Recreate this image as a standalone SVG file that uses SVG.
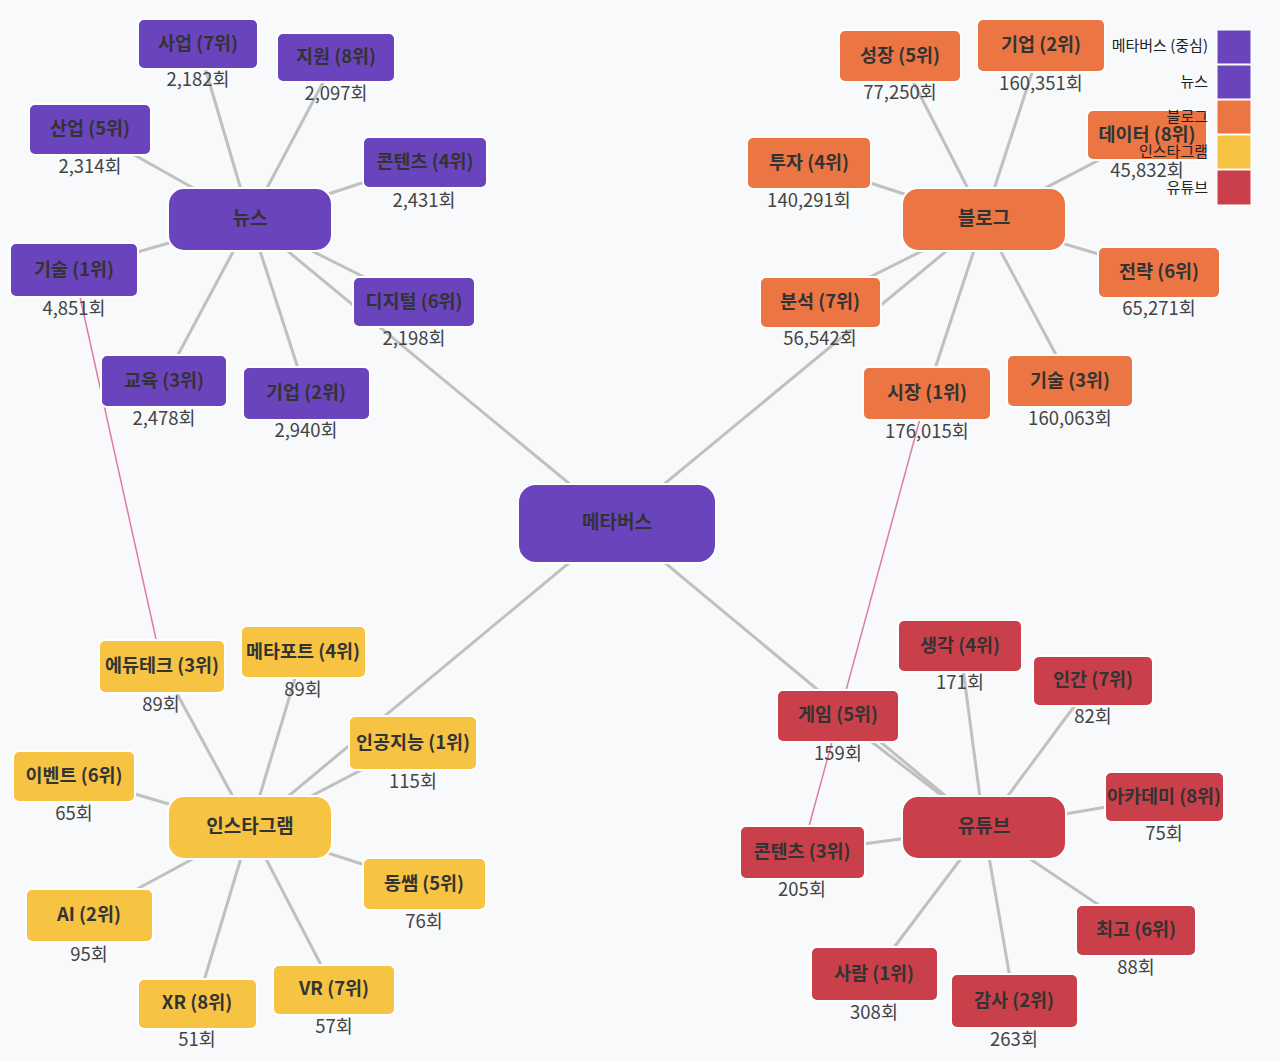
<svg xmlns="http://www.w3.org/2000/svg" width="1280" height="1061" viewBox="0 0 1280 1061">
<style>
text{font-family:"Noto Sans CJK KR","Noto Sans",sans-serif;text-anchor:middle}
.n rect{stroke:#fff;stroke-width:2}
.p rect{fill:#6a44bd}.o rect{fill:#ec7544}.y rect{fill:#f6c343}.r rect{fill:#c9404a}
.l{font-size:18.5px;font-weight:bold;fill:#333}
.h{font-size:19px;font-weight:bold;fill:#333}
.c{font-size:18.5px;fill:#444}
.e line{stroke:#c0c0c0;stroke-width:3}
.k line{stroke:#e07aa8;stroke-width:1.5}
.lg text{font-size:15px;fill:#222;text-anchor:end}
.lg rect{stroke:#fff;stroke-width:1}
</style>
<rect width="1280" height="1061" fill="#f8f9fb"/>
<g id="connectors">
<g class="e">
<line x1="617" y1="523" x2="250" y2="220"/><line x1="617" y1="523" x2="984" y2="220"/>
<line x1="617" y1="523" x2="250" y2="828"/><line x1="617" y1="523" x2="984" y2="828"/>
<line x1="250" y1="220" x2="198" y2="44"/><line x1="250" y1="220" x2="336" y2="58"/>
<line x1="250" y1="220" x2="90" y2="130"/><line x1="250" y1="220" x2="425" y2="162"/>
<line x1="250" y1="220" x2="74" y2="270"/><line x1="250" y1="220" x2="414" y2="302"/>
<line x1="250" y1="220" x2="164" y2="381"/><line x1="250" y1="220" x2="306" y2="393"/>
<line x1="984" y1="220" x2="900" y2="56"/><line x1="984" y1="220" x2="1041" y2="45"/>
<line x1="984" y1="220" x2="1147" y2="135"/><line x1="984" y1="220" x2="809" y2="163"/>
<line x1="984" y1="220" x2="1159" y2="272"/><line x1="984" y1="220" x2="820" y2="302"/>
<line x1="984" y1="220" x2="927" y2="393"/><line x1="984" y1="220" x2="1070" y2="381"/>
<line x1="250" y1="828" x2="162" y2="666"/><line x1="250" y1="828" x2="303" y2="652"/>
<line x1="250" y1="828" x2="413" y2="743"/><line x1="250" y1="828" x2="74" y2="776"/>
<line x1="250" y1="828" x2="424" y2="884"/><line x1="250" y1="828" x2="89" y2="915"/>
<line x1="250" y1="828" x2="197" y2="1004"/><line x1="250" y1="828" x2="334" y2="990"/>
<line x1="984" y1="828" x2="960" y2="646"/><line x1="984" y1="828" x2="1093" y2="681"/>
<line x1="984" y1="828" x2="838" y2="716"/><line x1="984" y1="828" x2="1164" y2="797"/>
<line x1="984" y1="828" x2="802" y2="852"/><line x1="984" y1="828" x2="1136" y2="930"/>
<line x1="984" y1="828" x2="874" y2="974"/><line x1="984" y1="828" x2="1014" y2="1001"/>
</g>
<g class="k">
<line x1="74" y1="270" x2="162" y2="666"/>
<line x1="927" y1="393" x2="802" y2="852"/>
</g>
</g>
<g id="metaverse" class="n p"><rect x="518" y="484" width="198" height="79" rx="18"/><text class="h" x="617" y="529">메타버스</text></g>
<g id="news" class="n p"><rect x="168" y="188" width="164" height="63" rx="16"/><text class="h" x="250" y="225">뉴스</text></g>
<g id="blog" class="n o"><rect x="902" y="188" width="164" height="63" rx="16"/><text class="h" x="984" y="225">블로그</text></g>
<g id="insta" class="n y"><rect x="168" y="796" width="164" height="63" rx="16"/><text class="h" x="250" y="833">인스타그램</text></g>
<g id="youtube" class="n r"><rect x="902" y="796" width="164" height="63" rx="16"/><text class="h" x="984" y="833">유튜브</text></g>

<g id="n1" class="n p"><rect x="138" y="19" width="120" height="50" rx="6"/><text class="l" x="198" y="50">사업 (7위)</text><text class="c" x="198" y="86">2,182회</text></g>
<g id="n2" class="n p"><rect x="277" y="33" width="118" height="49" rx="6"/><text class="l" x="336" y="63">지원 (8위)</text><text class="c" x="336" y="100">2,097회</text></g>
<g id="n3" class="n p"><rect x="29" y="104" width="122" height="51" rx="6"/><text class="l" x="90" y="135">산업 (5위)</text><text class="c" x="90" y="173">2,314회</text></g>
<g id="n4" class="n p"><rect x="363" y="137" width="124" height="51" rx="6"/><text class="l" x="425" y="168">콘텐츠 (4위)</text><text class="c" x="424" y="207">2,431회</text></g>
<g id="n5" class="n p"><rect x="10" y="243" width="128" height="54" rx="6"/><text class="l" x="74" y="276">기술 (1위)</text><text class="c" x="74" y="315">4,851회</text></g>
<g id="n6" class="n p"><rect x="353" y="277" width="122" height="50" rx="6"/><text class="l" x="414" y="308">디지털 (6위)</text><text class="c" x="414" y="345">2,198회</text></g>
<g id="n7" class="n p"><rect x="101" y="355" width="126" height="52" rx="6"/><text class="l" x="164" y="387">교육 (3위)</text><text class="c" x="164" y="425">2,478회</text></g>
<g id="n8" class="n p"><rect x="243" y="367" width="127" height="53" rx="6"/><text class="l" x="306" y="399">기업 (2위)</text><text class="c" x="306" y="437">2,940회</text></g>

<g id="b1" class="n o"><rect x="839" y="30" width="122" height="52" rx="6"/><text class="l" x="900" y="62">성장 (5위)</text><text class="c" x="900" y="99">77,250회</text></g>
<g id="b2" class="n o"><rect x="977" y="19" width="128" height="53" rx="6"/><text class="l" x="1041" y="51">기업 (2위)</text><text class="c" x="1041" y="90">160,351회</text></g>
<g id="b3" class="n o"><rect x="1087" y="110" width="120" height="50" rx="6"/><text class="l" x="1147" y="141">데이터 (8위)</text><text class="c" x="1147" y="177">45,832회</text></g>
<g id="b4" class="n o"><rect x="747" y="137" width="124" height="52" rx="6"/><text class="l" x="809" y="169">투자 (4위)</text><text class="c" x="809" y="207">140,291회</text></g>
<g id="b5" class="n o"><rect x="1098" y="247" width="122" height="51" rx="6"/><text class="l" x="1159" y="278">전략 (6위)</text><text class="c" x="1159" y="315">65,271회</text></g>
<g id="b6" class="n o"><rect x="760" y="277" width="121" height="51" rx="6"/><text class="l" x="820" y="308">분석 (7위)</text><text class="c" x="820" y="345">56,542회</text></g>
<g id="b7" class="n o"><rect x="863" y="367" width="128" height="53" rx="6"/><text class="l" x="927" y="399">시장 (1위)</text><text class="c" x="927" y="438">176,015회</text></g>
<g id="b8" class="n o"><rect x="1007" y="355" width="126" height="52" rx="6"/><text class="l" x="1070" y="387">기술 (3위)</text><text class="c" x="1070" y="425">160,063회</text></g>

<g id="i1" class="n y"><rect x="99" y="640" width="126" height="53" rx="6"/><text class="l" x="162" y="672">에듀테크 (3위)</text><text class="c" x="161" y="711">89회</text></g>
<g id="i2" class="n y"><rect x="241" y="626" width="125" height="52" rx="6"/><text class="l" x="303" y="658">메타포트 (4위)</text><text class="c" x="303" y="696">89회</text></g>
<g id="i3" class="n y"><rect x="349" y="716" width="128" height="54" rx="6"/><text class="l" x="413" y="749">인공지능 (1위)</text><text class="c" x="413" y="788">115회</text></g>
<g id="i4" class="n y"><rect x="13" y="751" width="122" height="51" rx="6"/><text class="l" x="74" y="782">이벤트 (6위)</text><text class="c" x="74" y="820">65회</text></g>
<g id="i5" class="n y"><rect x="363" y="858" width="123" height="52" rx="6"/><text class="l" x="424" y="890">동쌤 (5위)</text><text class="c" x="424" y="928">76회</text></g>
<g id="i6" class="n y"><rect x="26" y="889" width="127" height="53" rx="6"/><text class="l" x="89" y="921">AI (2위)</text><text class="c" x="89" y="961">95회</text></g>
<g id="i7" class="n y"><rect x="138" y="979" width="119" height="50" rx="6"/><text class="l" x="197" y="1009">XR (8위)</text><text class="c" x="197" y="1046">51회</text></g>
<g id="i8" class="n y"><rect x="273" y="965" width="122" height="50" rx="6"/><text class="l" x="334" y="995">VR (7위)</text><text class="c" x="334" y="1033">57회</text></g>

<g id="y1" class="n r"><rect x="898" y="620" width="124" height="52" rx="6"/><text class="l" x="960" y="652">생각 (4위)</text><text class="c" x="960" y="689">171회</text></g>
<g id="y2" class="n r"><rect x="1033" y="656" width="120" height="50" rx="6"/><text class="l" x="1093" y="686">인간 (7위)</text><text class="c" x="1093" y="723">82회</text></g>
<g id="y3" class="n r"><rect x="777" y="690" width="122" height="52" rx="6"/><text class="l" x="838" y="721">게임 (5위)</text><text class="c" x="838" y="760">159회</text></g>
<g id="y4" class="n r"><rect x="1105" y="772" width="119" height="50" rx="6"/><text class="l" x="1164" y="803">아카데미 (8위)</text><text class="c" x="1164" y="840">75회</text></g>
<g id="y5" class="n r"><rect x="740" y="826" width="125" height="53" rx="6"/><text class="l" x="802" y="858">콘텐츠 (3위)</text><text class="c" x="802" y="896">205회</text></g>
<g id="y6" class="n r"><rect x="1076" y="905" width="120" height="51" rx="6"/><text class="l" x="1136" y="936">최고 (6위)</text><text class="c" x="1136" y="974">88회</text></g>
<g id="y7" class="n r"><rect x="811" y="947" width="127" height="54" rx="6"/><text class="l" x="874" y="980">사람 (1위)</text><text class="c" x="874" y="1019">308회</text></g>
<g id="y8" class="n r"><rect x="951" y="974" width="127" height="54" rx="6"/><text class="l" x="1014" y="1007">감사 (2위)</text><text class="c" x="1014" y="1046">263회</text></g>

<g id="legend" class="lg">
<rect x="1217" y="30" width="34" height="34" fill="#6a44bd"/><text x="1208" y="51">메타버스 (중심)</text>
<rect x="1217" y="65" width="34" height="34" fill="#6a44bd"/><text x="1208" y="87">뉴스</text>
<rect x="1217" y="100" width="34" height="34" fill="#ec7544"/><text x="1208" y="122">블로그</text>
<rect x="1217" y="135" width="34" height="34" fill="#f6c343"/><text x="1208" y="157">인스타그램</text>
<rect x="1217" y="170" width="34" height="35" fill="#c9404a"/><text x="1208" y="193">유튜브</text>
</g>
</svg>
